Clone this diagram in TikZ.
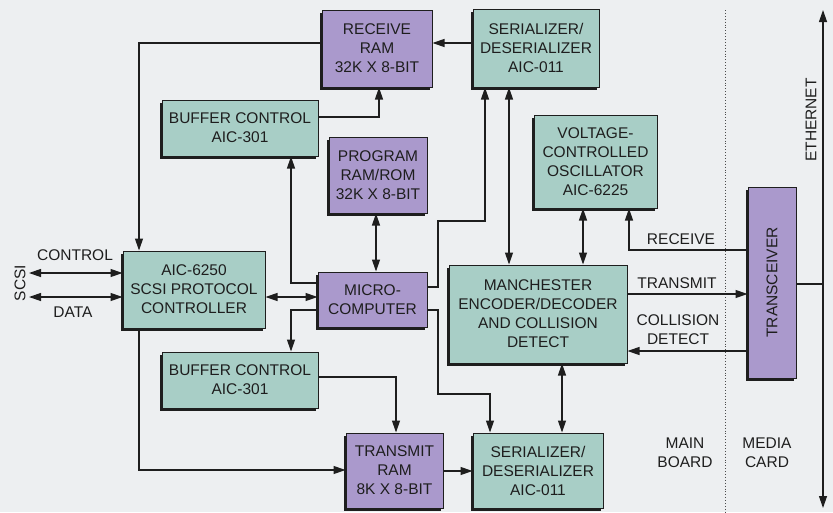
\documentclass[tikz,border=0pt]{standalone}
\usepackage{fontspec}
\setmainfont{Liberation Sans}
\usetikzlibrary{arrows.meta,shadows}
\definecolor{bg}{RGB}{237,239,241}
\definecolor{teal}{RGB}{168,206,198}
\definecolor{purp}{RGB}{170,153,204}
\definecolor{ink}{RGB}{30,30,30}
\begin{document}
\begin{tikzpicture}[x=1pt,y=-1pt,
  txt/.style={font=\fontsize{15.5}{19}\selectfont, text=ink, align=center, inner sep=0pt},
  box/.style={txt, draw=ink, line width=1pt, rectangle,
     drop shadow={shadow xshift=-2.5pt, shadow yshift=-2.5pt, fill=ink, opacity=1}},
  tbox/.style={box, fill=teal},
  pbox/.style={box, fill=purp},
  wire/.style={draw=ink, line width=1.2pt},
  arr/.style={wire, -{Triangle[length=12pt,width=8pt]}},
  darr/.style={wire, {Triangle[length=12pt,width=8pt]}-{Triangle[length=12pt,width=8pt]}},
  lbl/.style={txt}]
\useasboundingbox (0,0) rectangle (833,512);
\fill[bg] (0,0) rectangle (833,512);
% dotted boundary
\draw[ink!80, line width=0.9pt, dotted] (725,10) -- (725,512);
% boxes
\node[pbox, minimum width=110pt, minimum height=77pt] (rram) at (377,48.5) {RECEIVE\\RAM\\32K X 8-BIT};
\node[tbox, minimum width=126pt, minimum height=78pt] (sertop) at (536,48) {SERIALIZER/\\DESERIALIZER\\AIC-011};
\node[tbox, minimum width=156pt, minimum height=56pt] (bctop) at (240,128) {BUFFER CONTROL\\AIC-301};
\node[pbox, minimum width=98pt, minimum height=76pt] (prog) at (378,175) {PROGRAM\\RAM/ROM\\32K X 8-BIT};
\node[tbox, minimum width=123pt, minimum height=93pt] (vco) at (595.5,161.5) {VOLTAGE-\\CONTROLLED\\OSCILLATOR\\AIC-6225};
\node[pbox, minimum width=48pt, minimum height=191pt] (trx) at (772,282.5) {};
\node[txt, rotate=90] (trxl) at (trx.center) {TRANSCEIVER};
\node[tbox, minimum width=142pt, minimum height=77pt] (scsi) at (194,289.5) {AIC-6250\\SCSI PROTOCOL\\CONTROLLER};
\node[pbox, minimum width=109pt, minimum height=55pt] (micro) at (372.5,299.5) {MICRO-\\COMPUTER};
\node[tbox, minimum width=178pt, minimum height=98pt] (man) at (538,314) {MANCHESTER\\ENCODER/DECODER\\AND COLLISION\\DETECT};
\node[tbox, minimum width=156pt, minimum height=56pt] (bcbot) at (240,380) {BUFFER CONTROL\\AIC-301};
\node[pbox, minimum width=97pt, minimum height=75pt] (tram) at (394.5,470.5) {TRANSMIT\\RAM\\8K X 8-BIT};
\node[tbox, minimum width=130pt, minimum height=75pt] (serbot) at (538,470.5) {SERIALIZER/\\DESERIALIZER\\AIC-011};
% free ends
\coordinate (sc1) at (29,273);
\coordinate (sc2) at (29,297);
\coordinate (e1) at (823,10);
\coordinate (e2) at (823,508);
% connectors
\draw[arr] (rram.west |- 0,43) -| (scsi.north -| 139,0);
\draw[arr] (sertop.west |- 0,43) -- (rram.east |- 0,43);
\draw[arr] (bctop.east |- 0,117) -| (rram.south -| 379,0);
\draw[arr] (micro.west |- 0,283) -| (bctop.south -| 291,0);
\draw[darr] (prog.south -| 376,0) -- (micro.north -| 376,0);
\draw[darr] (scsi.east |- 0,297) -- (micro.west |- 0,297);
\draw[arr] (micro.west |- 0,310) -| (bcbot.north -| 291,0);
\draw[arr] (scsi.south -| 139,0) |- (tram.west |- 0,470);
\draw[arr] (bcbot.east |- 0,377) -| (tram.north -| 396,0);
\draw[arr] (tram.east |- 0,471) -- (serbot.west |- 0,471);
\draw[arr] (micro.east |- 0,310) -- (438,310) -- (438,394) -| (serbot.north -| 490,0);
\draw[arr] (micro.east |- 0,287) -- (438,287) -- (438,221) -| (sertop.south -| 485,0);
\draw[darr] (sertop.south -| 509,0) -- (man.north -| 509,0);
\draw[darr] (vco.south -| 583,0) -- (man.north -| 583,0);
\draw[darr] (man.south -| 562,0) -- (serbot.north -| 562,0);
\draw[arr] (trx.west |- 0,250) -| (vco.south -| 629,0);
\draw[arr] (man.east |- 0,294) -- (trx.west |- 0,294);
\draw[arr] (trx.west |- 0,351) -- (man.east |- 0,351);
\draw[darr] (sc1) -- (scsi.west |- sc1);
\draw[darr] (sc2) -- (scsi.west |- sc2);
\draw[darr] (e2) -- (e1);
\draw[wire] (trx.east |- 0,284) -- (e1 |- 0,284);
% labels
\node[lbl] (lcontrol) at (75,255) {CONTROL};
\node[lbl] (ldata) at (73,312) {DATA};
\node[lbl, rotate=90] (lscsi) at (20,283) {SCSI};
\node[lbl] (lrecv) at (681,239) {RECEIVE};
\node[lbl] (ltx) at (677,283) {TRANSMIT};
\node[lbl] (lcol) at (678,330) {COLLISION\\DETECT};
\node[lbl] (lmain) at (685,453) {MAIN\\BOARD};
\node[lbl] (lmedia) at (767,453) {MEDIA\\CARD};
\node[lbl, rotate=90] (leth) at (811,120) {ETHERNET};
\end{tikzpicture}
\end{document}
